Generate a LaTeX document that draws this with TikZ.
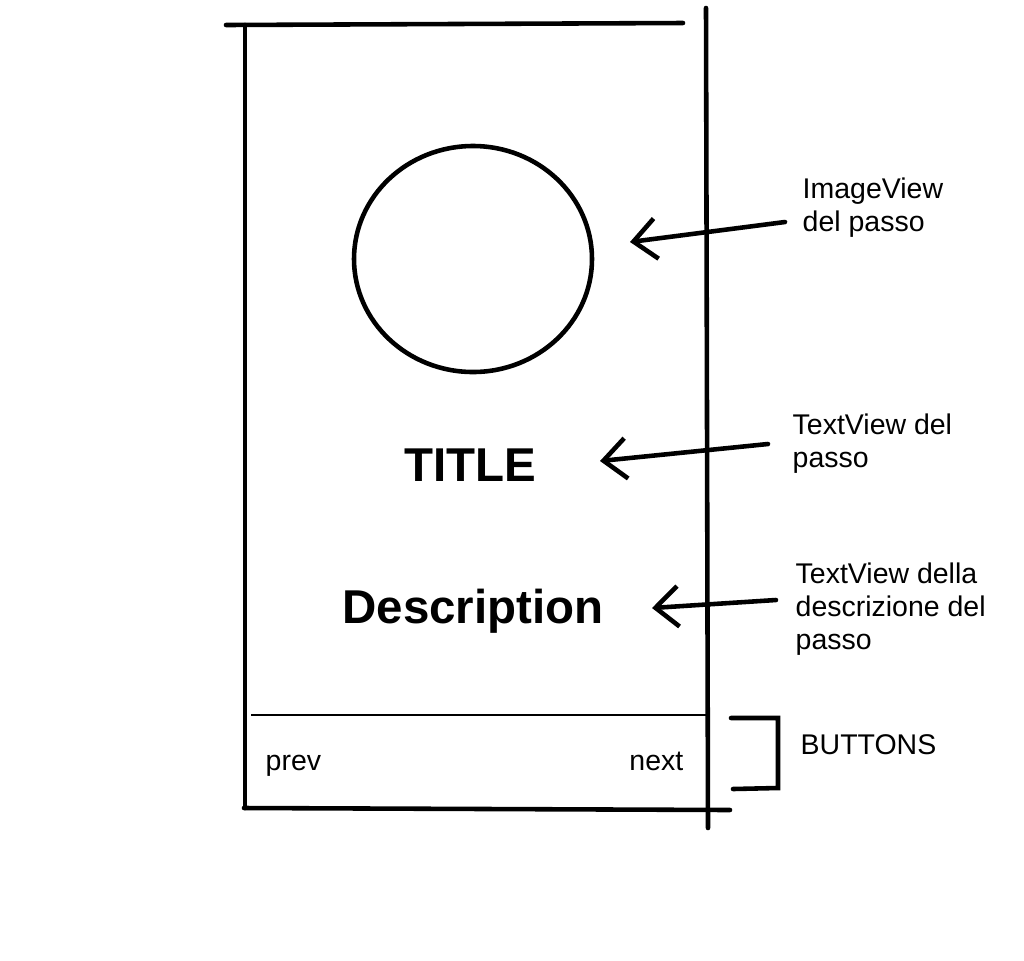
\documentclass[tikz,border=0pt]{standalone}
\usepackage{fontspec}
\setmainfont{Liberation Sans}
\usetikzlibrary{arrows.meta}

\tikzset{
    pen/.style={line width=1.3pt, line cap=round},
    pointer/.style={pen, -{Straight Barb[length=6.5pt, width=11.5pt, line width=1.3pt]}},
    note/.style={anchor=north west, inner sep=0pt, align=left, font=\fontsize{8.1}{9.4}\selectfont},
    bigtext/.style={anchor=base, inner sep=0pt, font=\fontsize{13.5}{16}\selectfont\bfseries}
}

\begin{document}
\begin{tikzpicture}[x=0.01cm, y=-0.01cm]
    \useasboundingbox (0,0) rectangle (1024,960);

    \coordinate (TL) at (226,25);
    \coordinate (TR) at (683,23);
    \coordinate (L1) at (245,25);
    \coordinate (L2) at (245,808);
    \coordinate (B1) at (244,808);
    \coordinate (B2) at (730,810);
    \coordinate (R1) at (706,8);
    \coordinate (R2) at (708,828);

    % cornice dello schermo
    \draw[pen] (TL) -- (TR);
    \draw[pen] (L1) -- (L2);
    \draw[pen] (B1) -- (B2);
    \draw[pen] (R1) -- (R2);
    \draw[line width=0.3pt] (251,715) -- (708,715);

    \draw[pen] (473,259) ellipse [x radius=119, y radius=113];

    \node[bigtext] (title) at (470,481) {TITLE};
    \node[bigtext] (desc) at (473,623) {Description};

    \node[note, anchor=base west] (prev) at (265,770) {prev};
    \node[note, anchor=base east] (next) at (684,770) {next};

    % etichette a destra
    \node[note] (lblimg) at (802,177) {ImageView\\del passo};
    \node[note] (lbltitle) at (792,413) {TextView del\\passo};
    \node[note] (lbldesc) at (795,562) {TextView della\\descrizione del\\passo};
    \node[note] (lblbtn) at (800,734) {BUTTONS};

    \coordinate (A1) at (785,222);
    \coordinate (A1t) at (630,242);
    \coordinate (A2) at (768,444);
    \coordinate (A2t) at (600,461);
    \coordinate (A3) at (776,600);
    \coordinate (A3t) at (652,608);

    \draw[pointer] (A1) -- (A1t);
    \draw[pointer] (A2) -- (A2t);
    \draw[pointer] (A3) -- (A3t);

    \draw[pen] (731,718) -- (778,718) -- (778,788) -- (733,789);
\end{tikzpicture}
\end{document}
